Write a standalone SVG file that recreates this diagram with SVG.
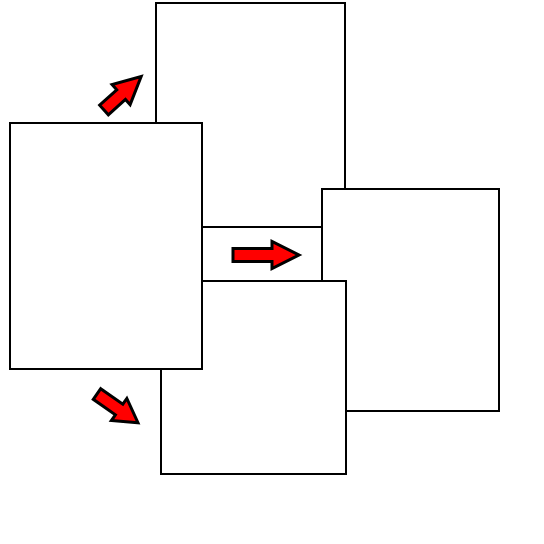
<svg xmlns="http://www.w3.org/2000/svg" width="544" height="544" viewBox="0 0 544 544">
<style>
.box{fill:#fff;stroke:#000;stroke-width:2}
.arr{fill:#f00;stroke:#000;stroke-width:3;stroke-linejoin:miter}
</style>
<defs>
<path id="big" d="M0,-6.5 L39,-6.5 L39,-13.5 L66,0 L39,13.5 L39,6.5 L0,6.5 Z"/>
<path id="up" d="M0,-6.5 L23,-6.5 L23,-13.5 L50,0 L23,13.5 L23,6.5 L0,6.5 Z"/>
<path id="down" d="M0,-6.5 L27,-6.5 L27,-13.5 L50,0 L27,13.5 L27,6.5 L0,6.5 Z"/>
</defs>
<rect width="544" height="544" fill="#fff"/>
<g id="top-box"><rect class="box" x="156" y="3" width="189" height="224"/></g>
<g id="right-box"><rect class="box" x="322" y="189" width="177" height="222"/></g>
<g id="bottom-box"><rect class="box" x="161" y="281" width="185" height="193"/></g>
<g id="left-box"><rect class="box" x="10" y="123" width="192" height="246"/></g>
<g id="connectors">
<use href="#up" class="arr" transform="translate(104,110) rotate(-42)"/>
<use href="#big" class="arr" transform="translate(233,255)"/>
<use href="#down" class="arr" transform="translate(97,394) rotate(35)"/>
</g>
</svg>
